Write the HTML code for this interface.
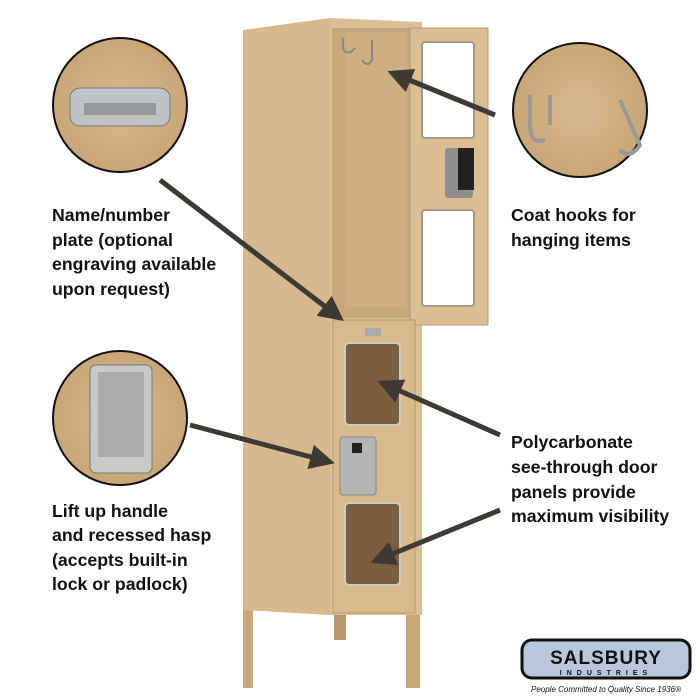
<!DOCTYPE html><html><head><style>body{margin:0;background:#fff}svg{display:block}text{font-family:"Liberation Sans",sans-serif;font-weight:bold;font-size:17.7px;fill:#111}</style></head><body>
<svg width="700" height="700" viewBox="0 0 700 700">
<defs><radialGradient id="c1"><stop offset="0" stop-color="#d8b98f"/><stop offset="1" stop-color="#c9a676"/></radialGradient>
<marker id="ah" viewBox="0 0 10 10" refX="8" refY="5" markerWidth="5" markerHeight="5" orient="auto"><path d="M0,0L10,5L0,10z" fill="#3d3a35"/></marker></defs>
<rect x="243" y="600" width="10" height="88" fill="#c9a677"/>
<rect x="334" y="600" width="12" height="40" fill="#b8956a"/>
<rect x="406" y="600" width="14" height="88" fill="#c9a677"/>
<polygon points="243,30 330,18 330,615 243,610" fill="#d7b98d"/>
<polygon points="330,18 422,22 422,615 330,615" fill="#dcbf95"/>
<rect x="332" y="28" width="80" height="290" fill="#c8a778"/>
<rect x="345" y="32" width="62" height="275" fill="#cfae80"/>
<polygon points="410,28 488,28 488,325 410,325" fill="#dcbe92" stroke="#b89870"/>
<rect x="422" y="42" width="52" height="96" rx="3" fill="#fff" stroke="#a99a88" stroke-width="2"/>
<rect x="422" y="210" width="52" height="96" rx="3" fill="#fff" stroke="#a99a88" stroke-width="2"/>
<rect x="445" y="148" width="28" height="50" rx="3" fill="#8f8f8f"/><rect x="458" y="148" width="16" height="42" fill="#222"/>
<path d="M343,38 v8 q0,8 8,6 l4,-4" stroke="#888" stroke-width="2" fill="none"/>
<path d="M372,40 v20 q-4,8 -10,0" stroke="#888" stroke-width="2" fill="none"/>
<rect x="333" y="320" width="82" height="293" fill="#d9ba8c" stroke="#b8986c"/>
<rect x="365" y="328" width="16" height="8" fill="#aaa"/>
<rect x="345" y="343" width="55" height="82" rx="4" fill="#7c5d3d" stroke="#ccc" stroke-width="2"/>
<rect x="345" y="503" width="55" height="82" rx="4" fill="#7c5d3d" stroke="#ccc" stroke-width="2"/>
<rect x="340" y="437" width="36" height="58" rx="3" fill="#b5b5b5" stroke="#888"/>
<rect x="352" y="443" width="10" height="10" fill="#222"/>
<circle cx="120" cy="105" r="67" fill="url(#c1)" stroke="#111" stroke-width="2"/>
<rect x="70" y="88" width="100" height="38" rx="10" fill="#bfc3c6" stroke="#777"/>
<rect x="84" y="103" width="72" height="12" fill="#999"/>
<circle cx="120" cy="418" r="67" fill="url(#c1)" stroke="#111" stroke-width="2"/>
<rect x="90" y="365" width="62" height="108" rx="6" fill="#c9c9c9" stroke="#777"/>
<rect x="98" y="372" width="46" height="85" fill="#aaa"/>
<circle cx="580" cy="110" r="67" fill="url(#c1)" stroke="#111" stroke-width="2"/>
<path d="M530,95 v30 q0,20 15,15 M550,95 v30 M620,100 l20,45 q-10,15 -20,5" stroke="#999" stroke-width="4" fill="none"/>
<g stroke="#3d3a35" stroke-width="5" fill="none" marker-end="url(#ah)">
<line x1="495" y1="115" x2="392" y2="73"/>
<line x1="160" y1="180" x2="340" y2="318"/>
<line x1="190" y1="425" x2="330" y2="462"/>
<line x1="500" y1="435" x2="382" y2="383"/>
<line x1="500" y1="510" x2="375" y2="561"/>
</g>
<text x="52" y="221">Name/number</text><text x="52" y="246">plate (optional</text><text x="52" y="270">engraving available</text><text x="52" y="295">upon request)</text>
<text x="52" y="517">Lift up handle</text><text x="52" y="541">and recessed hasp</text><text x="52" y="566">(accepts built-in</text><text x="52" y="590">lock or padlock)</text>
<text x="511" y="221">Coat hooks for</text><text x="511" y="246">hanging items</text>
<text x="511" y="448">Polycarbonate</text><text x="511" y="473">see-through door</text><text x="511" y="498">panels provide</text><text x="511" y="522">maximum visibility</text>
<rect x="522" y="640" width="168" height="38" rx="10" fill="#b8c6de" stroke="#111" stroke-width="3"/>
<text x="606" y="664" text-anchor="middle" style="font-size:19px;letter-spacing:1px">SALSBURY</text>
<text x="606" y="675" text-anchor="middle" style="font-size:7px;letter-spacing:5px">INDUSTRIES</text>
<text x="606" y="692" text-anchor="middle" style="font-size:8px;font-weight:normal;font-style:italic">People Committed to Quality Since 1936®</text>
</svg></body></html>
